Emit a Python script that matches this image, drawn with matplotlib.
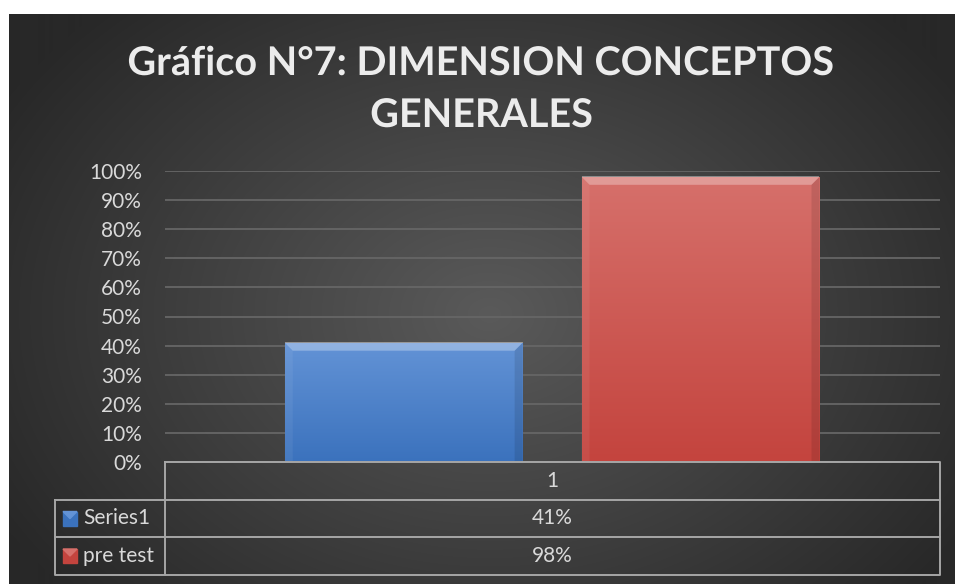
import numpy as np
import matplotlib.pyplot as plt
import matplotlib.patheffects as pe
from matplotlib.colors import to_rgb
from matplotlib.patches import Polygon, Rectangle

# data
categories = ['1']
series_names = ['Series1', 'pre test']
values = [0.41, 0.98]
value_labels = ['41%', '98%']
colors_top = ['#6393d6', '#d6706b']
colors_bot = ['#3b72bd', '#c4443e']
yticks = np.arange(0, 1.01, 0.1)

W, H = 955, 584
plt.rcParams['font.family'] = ['Lato', 'DejaVu Sans']
fig = plt.figure(figsize=(W / 100, H / 100), dpi=100)
fig.patch.set_facecolor('white')

# background with radial gradient
bg = fig.add_axes([9 / W, 0, (W - 9) / W, (H - 14) / H])
yy, xx = np.mgrid[0:570, 0:946]
r = np.sqrt(((xx - 480) / 560) ** 2 + ((yy - 300) / 420) ** 2)
r = np.clip(r, 0, 1)
c0, c1 = np.array([0x5a, 0x5a, 0x5a]) / 255, np.array([0x28, 0x28, 0x28]) / 255
img = c0[None, None, :] * (1 - r[..., None]) + c1[None, None, :] * r[..., None]
bg.imshow(img, aspect='auto', extent=[0, 1, 0, 1])
bg.set_axis_off()

# title (two lines, baseline positions from the picture)
for line, base in zip(['Gráfico N°7: DIMENSION CONCEPTOS', 'GENERALES'], [75, 127]):
    t = fig.text(482 / W, 1 - base / H, line, ha='center', va='baseline',
                 fontsize=28.5, fontweight='bold', color='#ececec')
    t.set_path_effects([pe.SimpleLineShadow(offset=(1.5, -1.5), shadow_color='black', alpha=0.5),
                        pe.Normal()])

# plot area
left, right, top, bottom = 165, 940, 171, 462
ax = fig.add_axes([left / W, 1 - bottom / H, (right - left) / W, (bottom - top) / H])
ax.set_facecolor('none')
ax.set_xlim(-0.5, 0.5)
ax.set_ylim(0, 1)
ax.set_yticks(yticks)
ax.set_yticklabels([f'{int(round(t * 100))}%' for t in yticks], color='#d9d9d9', fontsize=15)
ax.set_xticks([])
ax.tick_params(axis='y', length=0, pad=16.5)
for s in ax.spines.values():
    s.set_visible(False)
ax.yaxis.grid(True, color='#666666', lw=1.3)
ax.set_axisbelow(True)

bw = 0.307
xs = [-0.192, 0.191]
px_x = 1 / (right - left)
px_y = 1 / (bottom - top)
bv = 8
for x, v, ct, cb in zip(xs, values, colors_top, colors_bot):
    x0, x1 = x - bw / 2, x + bw / 2
    bar = ax.bar(x, v, bw, color=cb, edgecolor='none', zorder=3)[0]
    grad = np.linspace(0, 1, 100)[:, None, None]
    a, b = np.array(to_rgb(ct)), np.array(to_rgb(cb))
    gimg = a * (1 - grad) + b * grad
    im = ax.imshow(gimg, aspect='auto', extent=[x0, x1, 0, v], zorder=3.1)
    im.set_clip_path(bar)
    dx, dy = bv * px_x, bv * px_y
    # bevel: top light, sides slightly shaded
    ax.add_patch(Polygon([[x0, v], [x1, v], [x1 - dx, v - dy], [x0 + dx, v - dy]],
                         color='white', alpha=0.3, lw=0, zorder=3.2))
    ax.add_patch(Polygon([[x0, v], [x0 + dx, v - dy], [x0 + dx, 0], [x0, 0]],
                         color='white', alpha=0.06, lw=0, zorder=3.2))
    ax.add_patch(Polygon([[x1, v], [x1 - dx, v - dy], [x1 - dx, 0], [x1, 0]],
                         color='black', alpha=0.1, lw=0, zorder=3.2))
    ax.add_patch(Rectangle((x0, v - 0.5 * px_y), bw, px_y, color='white', alpha=0.35,
                           lw=0, zorder=3.3))
ax.set_xlim(-0.5, 0.5)
ax.set_ylim(0, 1)

# data table
tb = fig.add_axes([0, 0, 1, 1])
tb.set_xlim(0, W)
tb.set_ylim(H, 0)
tb.set_axis_off()
lc = '#a6a6a6'
rows_y = [462, 500, 537, 575]
lab_x = 55
tb.plot([left, right, right, left, left], [462, 462, 575, 575, 462], color=lc, lw=1.4)
tb.plot([lab_x, lab_x, left], [500, 575, 575], color=lc, lw=1.4)
for yv in rows_y[1:3]:
    tb.plot([lab_x, right], [yv, yv], color=lc, lw=1.4)
cx = (left + right) / 2
tb.text(cx, (rows_y[0] + rows_y[1]) / 2, categories[0], ha='center', va='center',
        color='#d9d9d9', fontsize=15)
for i, (name, lab, ct, cb) in enumerate(zip(series_names, value_labels, colors_top, colors_bot)):
    yc = (rows_y[i + 1] + rows_y[i + 2]) / 2
    tb.add_patch(Rectangle((63, yc - 7), 14, 14, color=cb, zorder=3))
    tb.add_patch(Polygon([[63, yc - 7], [77, yc - 7], [70, yc]], color=ct, zorder=4))
    tb.text(83, yc, name, ha='left', va='center', color='#d9d9d9', fontsize=15)
    tb.text(cx, yc, lab, ha='center', va='center', color='#d9d9d9', fontsize=15)

fig.savefig('out.png', dpi=100, facecolor=fig.get_facecolor())
